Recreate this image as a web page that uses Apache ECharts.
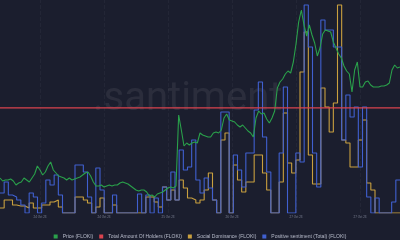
<!DOCTYPE html>
<html><head><meta charset="utf-8">
<script src="https://cdn.jsdelivr.net/npm/echarts@6/dist/echarts.min.js"></script>
<style>html,body{margin:0;padding:0;background:#1b1e2e;}#c{width:400px;height:240px;}</style>
</head><body><div id="c"></div>
<script>
const tickLabels = ["24 Oct 23", "24 Oct 23", "25 Oct 23", "26 Oct 23", "27 Oct 23", "27 Oct 23"];
const tickHours = [9.6, 24.96, 40.32, 55.68, 71.04, 86.4];
const spanHours = 96;

// Price (FLOKI), in 1e-8 USD, evenly spaced over the span
const price = [2175,2160,2165,2165,2170,2160,2140,2150,2155,2175,
 2165,2155,2175,2195,2235,2215,2190,2205,2235,2255,
 2215,2200,2185,2180,2175,2165,2175,2165,2170,2175,
 2180,2190,2200,2205,2185,2155,2135,2135,2140,2130,
 2135,2140,2135,2140,2140,2150,2155,2150,2145,2135,
 2125,2115,2110,2115,2115,2105,2085,2090,2080,2095,
 2100,2105,2115,2125,2130,2125,2135,2490,2415,2335,
 2350,2340,2350,2355,2350,2400,2390,2385,2380,2380,
 2400,2405,2400,2415,2475,2495,2465,2460,2455,2440,
 2430,2440,2425,2410,2400,2380,2475,2510,2495,2500,
 2470,2450,2475,2510,2625,2655,2670,2695,2710,2700,
 2755,2845,2955,3015,2940,2885,2940,2890,2850,2785,
 2825,2895,2915,2910,2905,2855,2825,2795,2775,2735,
 2710,2695,2605,2715,2755,2630,2630,2655,2660,2640,
 2630,2630,2630,2635,2635,2640,2650,2715,2740,2725,
 2730];

// Total Amount Of Holders (FLOKI)
const holderHours = [0, 24, 48, 72, 96];
const holders = [454000, 454000, 454000, 454000, 454000];

// Social Dominance (FLOKI), %, hourly
const socialDominance = [0.05,0.13,0.13,0.08,0.07,0.07,0.05,0.10,0.05,0.05,
 0.08,0.08,0.11,0.13,0.06,0,0,0,0.16,0.16,
 0.13,0.10,0,0.06,0.15,0,0,0.08,0,0,
 0,0,0,0,0,0.16,0.16,0.11,0.06,0.26,
 0.13,0.23,0.13,0.33,0.25,0.15,0.13,0.10,0.13,0.23,
 0.40,0.13,0,0.73,0.80,0,0.48,0.33,0.21,0.31,
 0.31,0.58,0.58,0.40,0.23,0,0,0.31,1.00,0.50,
 0.40,0.53,1.41,1.81,0.58,0.29,0.29,1.25,1.06,0.81,
 1.10,2.08,0.73,0.70,0.46,0.46,0.73,0.93,0.30,0.23,
 0,0,0,0,0,0,0];

// Positive sentiment (Total) (FLOKI), hourly
const positiveSentiment = [4,6.2,3.6,3.2,2.6,1.6,0,4,3.2,0,
 2,6.6,5.6,7.6,3.6,0,0,0,9.6,9.6,
 8.2,3.2,0,9,4.6,0,0,3.6,0,0,
 0,0,0,3.8,0,3.6,0,3,0,5.2,
 2.6,8.2,2.6,12.6,8.6,9.2,14.6,6.6,4,7,
 5,2.6,0,20.2,20.2,0,11.6,8.6,5.2,12,
 12,20.6,26.2,15.2,8.2,0,0,12,25.2,0,
 0,12,10.2,41.6,33.2,12,5.2,38.6,36.6,36.6,
 33.2,33.2,14.6,23.6,19.2,21.2,9.2,21.2,3.2,0,
 3,0,0,0,2.2,6.6,6.6];

const priceData = price.map((v, k) => [k * spanHours / (price.length - 1), v]);
const holderData = holders.map((v, i) => [holderHours[i], v]);
const socialData = socialDominance.map((v, i) => [i, v]);
const sentData = positiveSentiment.map((v, i) => [i, v]);

const chart = echarts.init(document.getElementById('c'), null, {renderer: 'canvas'});
chart.setOption({
  animation: false,
  backgroundColor: '#1b1e2e',
  grid: {left: 0, right: 0, top: 0, bottom: 27, containLabel: false},
  graphic: [{
    type: 'text', x: 93, y: 100, z: 0, silent: true,
    style: {text: '.santiment', fontSize: 40, fontFamily: 'Roboto', fill: 'rgba(255,255,255,0.07)', verticalAlign: 'middle'}
  }],
  legend: {
    top: 229, left: 'center', itemWidth: 4, itemHeight: 4, itemGap: 6, icon: 'rect',
    textStyle: {color: '#b8bccb', fontSize: 5, fontFamily: 'Liberation Sans'},
    data: ['Price (FLOKI)', 'Total Amount Of Holders (FLOKI)', 'Social Dominance (FLOKI)', 'Positive sentiment (Total) (FLOKI)']
  },
  xAxis: {
    type: 'value', min: 0, max: spanHours,
    axisLine: {show: false}, axisTick: {show: false}, splitLine: {show: false},
    axisLabel: {
      customValues: tickHours, margin: 3, color: '#7d8294', fontSize: 3, fontFamily: 'Liberation Sans',
      formatter: function (v) {
        for (let i = 0; i < tickHours.length; i++) if (Math.abs(tickHours[i] - v) < 0.01) return tickLabels[i];
        return '';
      }
    }
  },
  yAxis: [
    {type: 'value', show: false, min: 2000, max: 3065, splitLine: {show: false}},
    {type: 'value', show: false, min: 0, max: 920000, splitLine: {show: false}},
    {type: 'value', show: false, min: 0, max: 2.13, splitLine: {show: false}},
    {type: 'value', show: false, min: 0, max: 42.6, splitLine: {show: false}}
  ],
  series: [
    {name: 'Price (FLOKI)', type: 'line', yAxisIndex: 0, data: priceData, showSymbol: false, z: 4,
     itemStyle: {color: '#2aa14b'}, lineStyle: {color: '#2aa14b', width: 1.1}},
    {name: 'Total Amount Of Holders (FLOKI)', type: 'line', yAxisIndex: 1, data: holderData, showSymbol: false, z: 5,
     itemStyle: {color: '#d9434e'}, lineStyle: {color: '#d9434e', width: 1.1},
     markLine: {silent: true, symbol: 'none', label: {show: false},
       lineStyle: {color: 'rgba(255,255,255,0.04)', type: 'dashed', width: 1},
       data: tickHours.map(h => ({xAxis: h}))}},
    {name: 'Social Dominance (FLOKI)', type: 'line', step: 'end', yAxisIndex: 2, data: socialData, showSymbol: false, z: 2,
     itemStyle: {color: '#c9a03f'}, lineStyle: {color: '#c9a03f', width: 1.1}},
    {name: 'Positive sentiment (Total) (FLOKI)', type: 'line', step: 'end', yAxisIndex: 3, data: sentData, showSymbol: false, z: 3,
     itemStyle: {color: '#4060d0'}, lineStyle: {color: '#4060d0', width: 1.1}}
  ]
});
</script>
</body></html>
